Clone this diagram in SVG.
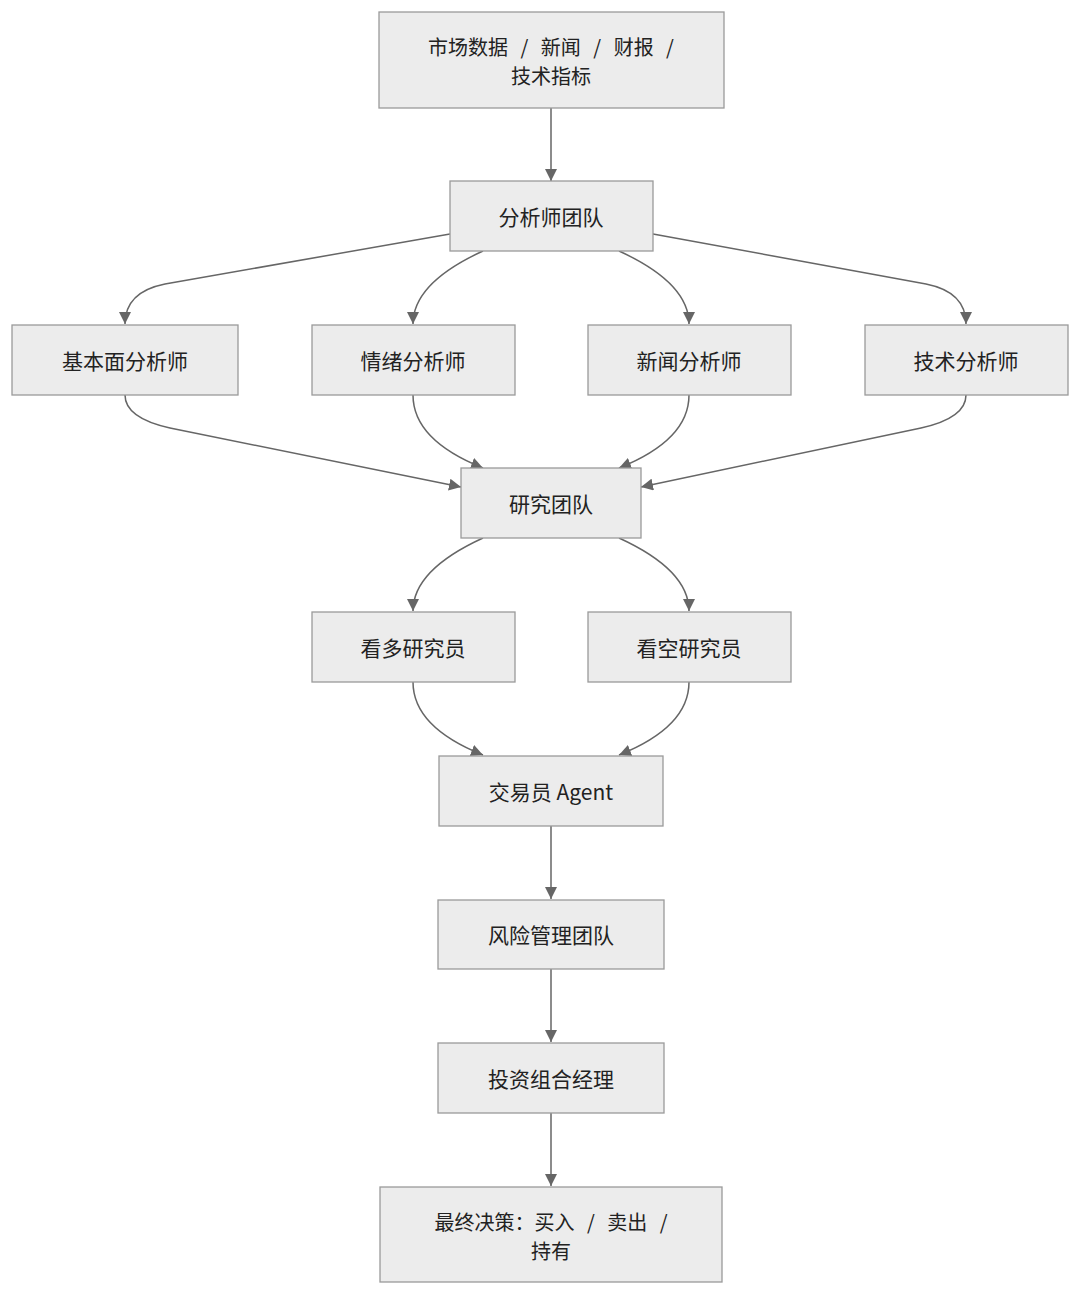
<svg xmlns="http://www.w3.org/2000/svg" width="1080" height="1295" viewBox="0 0 1080 1295">
<style>
.n{fill:#ececec;stroke:#9a9a9a;stroke-width:1.3}
.t{font-family:"Noto Sans CJK SC","Noto Sans",sans-serif;font-size:21px;fill:#222;text-anchor:middle;dominant-baseline:central}
.w{word-spacing:8px;font-size:20px}
.s{font-size:20px}
.e{fill:none;stroke:#666;stroke-width:1.5;marker-end:url(#a)}
</style>
<defs><marker id="a" markerUnits="userSpaceOnUse" markerWidth="12" markerHeight="12" refX="10" refY="5" viewBox="0 0 10 10" orient="auto"><path d="M0,0L10,5L0,10z" fill="#666"/></marker></defs>
<rect width="1080" height="1295" fill="#fff"/>
<g id="edges">
<path class="e" d="M551,108V181"/>
<path class="e" d="M450,234L165,284Q125,292 125,324"/>
<path class="e" d="M483,251Q413,283 413,324"/>
<path class="e" d="M619,251Q689,283 689,324"/>
<path class="e" d="M653,234L926,284Q966,292 966,324"/>
<path class="e" d="M125,395Q125,418 170,428L461,487"/>
<path class="e" d="M413,395Q413,440 483,468"/>
<path class="e" d="M689,395Q689,440 619,468"/>
<path class="e" d="M966,395Q966,418 921,428L641,487"/>
<path class="e" d="M483,538Q413,570 413,611"/>
<path class="e" d="M619,538Q689,570 689,611"/>
<path class="e" d="M413,682Q413,727 483,755"/>
<path class="e" d="M689,682Q689,727 619,755"/>
<path class="e" d="M551,826V899"/>
<path class="e" d="M551,969V1042"/>
<path class="e" d="M551,1113V1186"/>
</g>
<g id="n1"><rect class="n" x="379" y="12" width="345" height="96"/><text class="t w" x="551" y="46">市场数据 / 新闻 / 财报 /</text><text class="t s" x="551" y="75">技术指标</text></g>
<g id="n2"><rect class="n" x="450" y="181" width="203" height="70"/><text class="t" x="551" y="216">分析师团队</text></g>
<g id="n3"><rect class="n" x="12" y="325" width="226" height="70"/><text class="t" x="125" y="360">基本面分析师</text></g>
<g id="n4"><rect class="n" x="312" y="325" width="203" height="70"/><text class="t" x="413" y="360">情绪分析师</text></g>
<g id="n5"><rect class="n" x="588" y="325" width="203" height="70"/><text class="t" x="689" y="360">新闻分析师</text></g>
<g id="n6"><rect class="n" x="865" y="325" width="203" height="70"/><text class="t" x="966" y="360">技术分析师</text></g>
<g id="n7"><rect class="n" x="461" y="468" width="180" height="70"/><text class="t" x="551" y="503">研究团队</text></g>
<g id="n8"><rect class="n" x="312" y="612" width="203" height="70"/><text class="t" x="413" y="647">看多研究员</text></g>
<g id="n9"><rect class="n" x="588" y="612" width="203" height="70"/><text class="t" x="689" y="647">看空研究员</text></g>
<g id="n10"><rect class="n" x="439" y="756" width="224" height="70"/><text class="t" x="551" y="791">交易员 Agent</text></g>
<g id="n11"><rect class="n" x="438" y="900" width="226" height="69"/><text class="t" x="551" y="934">风险管理团队</text></g>
<g id="n12"><rect class="n" x="438" y="1043" width="226" height="70"/><text class="t" x="551" y="1078">投资组合经理</text></g>
<g id="n13"><rect class="n" x="380" y="1187" width="342" height="95"/><text class="t w" x="551" y="1221">最终决策：买入 / 卖出 /</text><text class="t s" x="551" y="1250">持有</text></g>
</svg>
